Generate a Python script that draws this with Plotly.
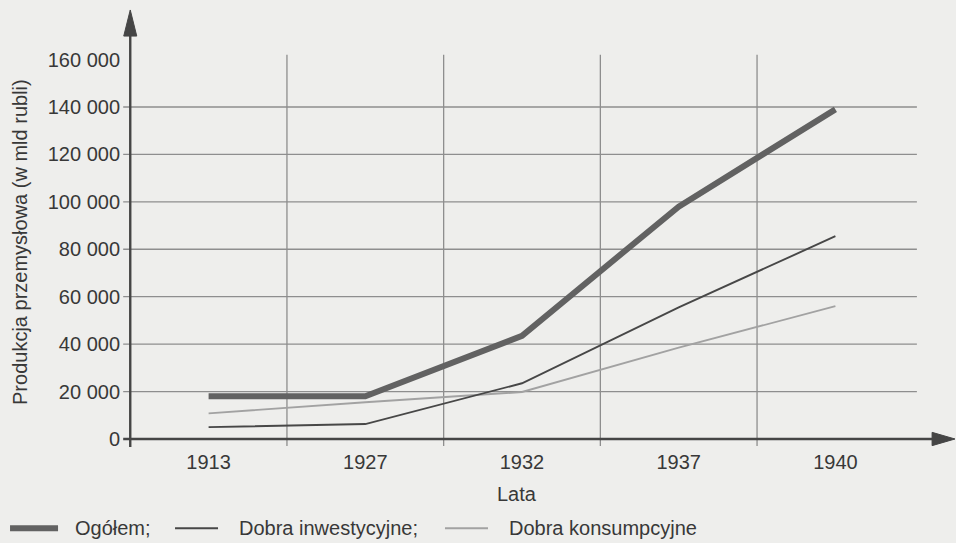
import plotly.graph_objects as go

# ---- data ----
years = ["1913", "1927", "1932", "1937", "1940"]
ogolem = [18000, 18000, 43500, 98000, 139000]
inwestycyjne = [5000, 6300, 23500, 55500, 85500]
konsumpcyjne = [10800, 15500, 19800, 38500, 56000]
y_ticks = [0, 20000, 40000, 60000, 80000, 100000, 120000, 140000, 160000]
y_tick_labels = [f"{v:,}".replace(",", " ") for v in y_ticks]

FONT = "Liberation Sans, Arial, Helvetica, sans-serif"
TXT = "#383838"
GRID = "#8e8e8e"
AXIS = "#454545"
BG = "#eeeeec"

xs = list(range(len(years)))

fig = go.Figure()
fig.add_trace(go.Scatter(x=xs, y=konsumpcyjne, mode="lines", name="Dobra konsumpcyjne",
                         line=dict(color="#a2a2a2", width=1.9), showlegend=False))
fig.add_trace(go.Scatter(x=xs, y=inwestycyjne, mode="lines", name="Dobra inwestycyjne",
                         line=dict(color="#474747", width=1.9), showlegend=False))
fig.add_trace(go.Scatter(x=xs, y=ogolem, mode="lines", name="Ogółem",
                         line=dict(color="#626262", width=6), showlegend=False))

shapes = []
# horizontal gridlines (with stub left of the axis)
for v in y_ticks[1:-1]:
    shapes.append(dict(type="line", xref="x", yref="y", x0=-0.545, x1=4.52, y0=v, y1=v,
                       line=dict(color=GRID, width=1.3), layer="below"))
# vertical gridlines between categories
for i in range(len(years) - 1):
    shapes.append(dict(type="line", xref="x", yref="y", x0=i + 0.5, x1=i + 0.5, y0=-3000, y1=162000,
                       line=dict(color=GRID, width=1.3), layer="below"))
# axes with arrows
shapes.append(dict(type="line", xref="x", yref="y", x0=-0.545, x1=4.65, y0=0, y1=0,
                   line=dict(color=AXIS, width=2.4)))
shapes.append(dict(type="line", xref="x", yref="y", x0=-0.5, x1=-0.5, y0=-3400, y1=172000,
                   line=dict(color=AXIS, width=2.4)))
shapes.append(dict(type="path", xref="x", yref="y",
                   path="M -0.5,180900 L -0.5415,169900 L -0.4585,169900 Z",
                   fillcolor=AXIS, line=dict(color=AXIS, width=1)))
shapes.append(dict(type="path", xref="x", yref="y",
                   path="M 4.763,0 L 4.617,2800 L 4.617,-2800 Z",
                   fillcolor=AXIS, line=dict(color=AXIS, width=1)))

# manual legend
legend_items = [
    ("Ogółem;", "#626262", 6, -0.1329, -0.0754, -0.0575),
    ("Dobra inwestycyjne;", "#474747", 1.9, 0.0647, 0.1162, 0.1389),
    ("Dobra konsumpcyjne", "#a2a2a2", 1.9, 0.388, 0.4395, 0.4623),
]
ly = -0.181
annotations = []
for name, col, w, a, b, tx in legend_items:
    shapes.append(dict(type="line", xref="paper", yref="paper", x0=a, x1=b, y0=ly, y1=ly,
                       line=dict(color=col, width=w)))
    annotations.append(dict(xref="paper", yref="paper", x=tx, y=ly, text=name, showarrow=False,
                            xanchor="left", yanchor="middle", font=dict(size=20, color=TXT, family=FONT)))

annotations.append(dict(xref="paper", yref="paper", x=0.474, y=-0.1038, text="Lata", showarrow=False,
                        xanchor="center", yanchor="middle", font=dict(size=20, color=TXT, family=FONT)))
annotations.append(dict(xref="paper", yref="paper", x=-0.121, y=0.465,
                        text="Produkcja przemysłowa (w mld rubli)", textangle=-90, showarrow=False,
                        xanchor="center", yanchor="middle", font=dict(size=20, color=TXT, family=FONT)))

fig.update_layout(
    width=956, height=543,
    margin=dict(l=121, r=0, t=5, b=95),
    paper_bgcolor=BG, plot_bgcolor=BG,
    font=dict(family=FONT, size=20, color=TXT),
    shapes=shapes, annotations=annotations,
    hovermode=False,
    xaxis=dict(range=[-0.559, 4.7696], tickvals=xs, ticktext=years, showgrid=False, zeroline=False,
               showline=False, ticks="", tickfont=dict(size=20, color=TXT), fixedrange=True),
    yaxis=dict(range=[-3800, 183000], tickvals=y_ticks, ticktext=y_tick_labels, showgrid=False,
               zeroline=False, showline=False, ticks="", tickfont=dict(size=20, color=TXT), fixedrange=True),
)

# remove the browser's default page margin so the figure fills the window
fig.write_html("out.html", config={"displayModeBar": False},
               post_script="document.body.style.margin='0px';document.body.style.background='" + BG + "';")
